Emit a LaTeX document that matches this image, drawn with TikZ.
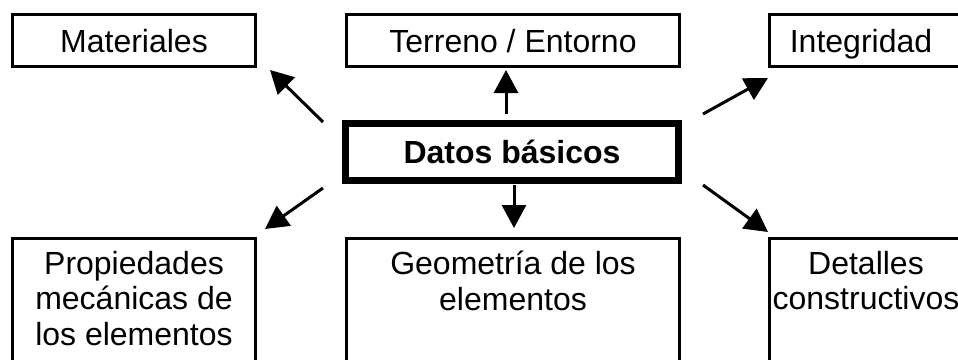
\documentclass[tikz,border=0pt]{standalone}
\usepackage{fontspec}
\setmainfont{Liberation Sans}
\usetikzlibrary{arrows.meta}
\begin{document}
\begin{tikzpicture}[x=1pt,y=-1pt,
  box/.style={draw, line width=3pt, inner sep=0pt, font=\fontsize{32}{35.5}\selectfont, text height=23pt, text depth=0pt},
  mainbox/.style={draw, line width=7pt, inner sep=0pt, minimum width=333pt, minimum height=57pt, font=\fontsize{32}{35.5}\selectfont\bfseries, text height=23pt, text depth=0pt},
  lbl/.style={inner sep=0pt, align=center, font=\fontsize{32}{35.5}\selectfont},
  arr/.style={line width=3pt, -{Triangle[length=23pt,width=24pt]}}]
\useasboundingbox (0,0) rectangle (958,359);
\clip (0,0) rectangle (958,359);
% top row
\node[box, minimum width=243pt, minimum height=52pt] (mat) at (134,40.5) {Materiales};
\node[box, minimum width=333pt, minimum height=52pt] (ter) at (513,40.5) {Terreno / Entorno};
\node[box, minimum width=210.5pt, minimum height=52pt] (int) at (874.75,40.5) {};
\node[lbl, anchor=base] (intt) at (861,52) {Integridad};
% centre
\node[mainbox] (dat) at (512,152) {Datos básicos};
% bottom row
\node[box, minimum width=243pt, minimum height=161.5pt] (pro) at (134,319.25) {};
\node[box, minimum width=333pt, minimum height=161.5pt] (geo) at (513,319.25) {};
\node[box, minimum width=210.5pt, minimum height=161.5pt] (det) at (874.75,319.25) {};
\node[lbl, anchor=north] (prot) at (134,251) {Propiedades\\mecánicas de\\los elementos};
\node[lbl, anchor=north] (geot) at (513,251) {Geometría de los\\elementos};
\node[lbl, anchor=north] (dett) at (866,251) {Detalles\\constructivos};
% arrow ends
\coordinate (t1) at (323,122); \coordinate (h1) at (270,70);
\coordinate (t2) at (506,114); \coordinate (h2) at (506,70);
\coordinate (t3) at (703,114); \coordinate (h3) at (768,78);
\coordinate (t4) at (323,188); \coordinate (h4) at (265,229);
\coordinate (t5) at (514,185); \coordinate (h5) at (514,228);
\coordinate (t6) at (703,185); \coordinate (h6) at (768,232);
\draw[arr] (t1) -- (h1);
\draw[arr] (t2) -- (h2);
\draw[arr] (t3) -- (h3);
\draw[arr] (t4) -- (h4);
\draw[arr] (t5) -- (h5);
\draw[arr] (t6) -- (h6);
\end{tikzpicture}
\end{document}
